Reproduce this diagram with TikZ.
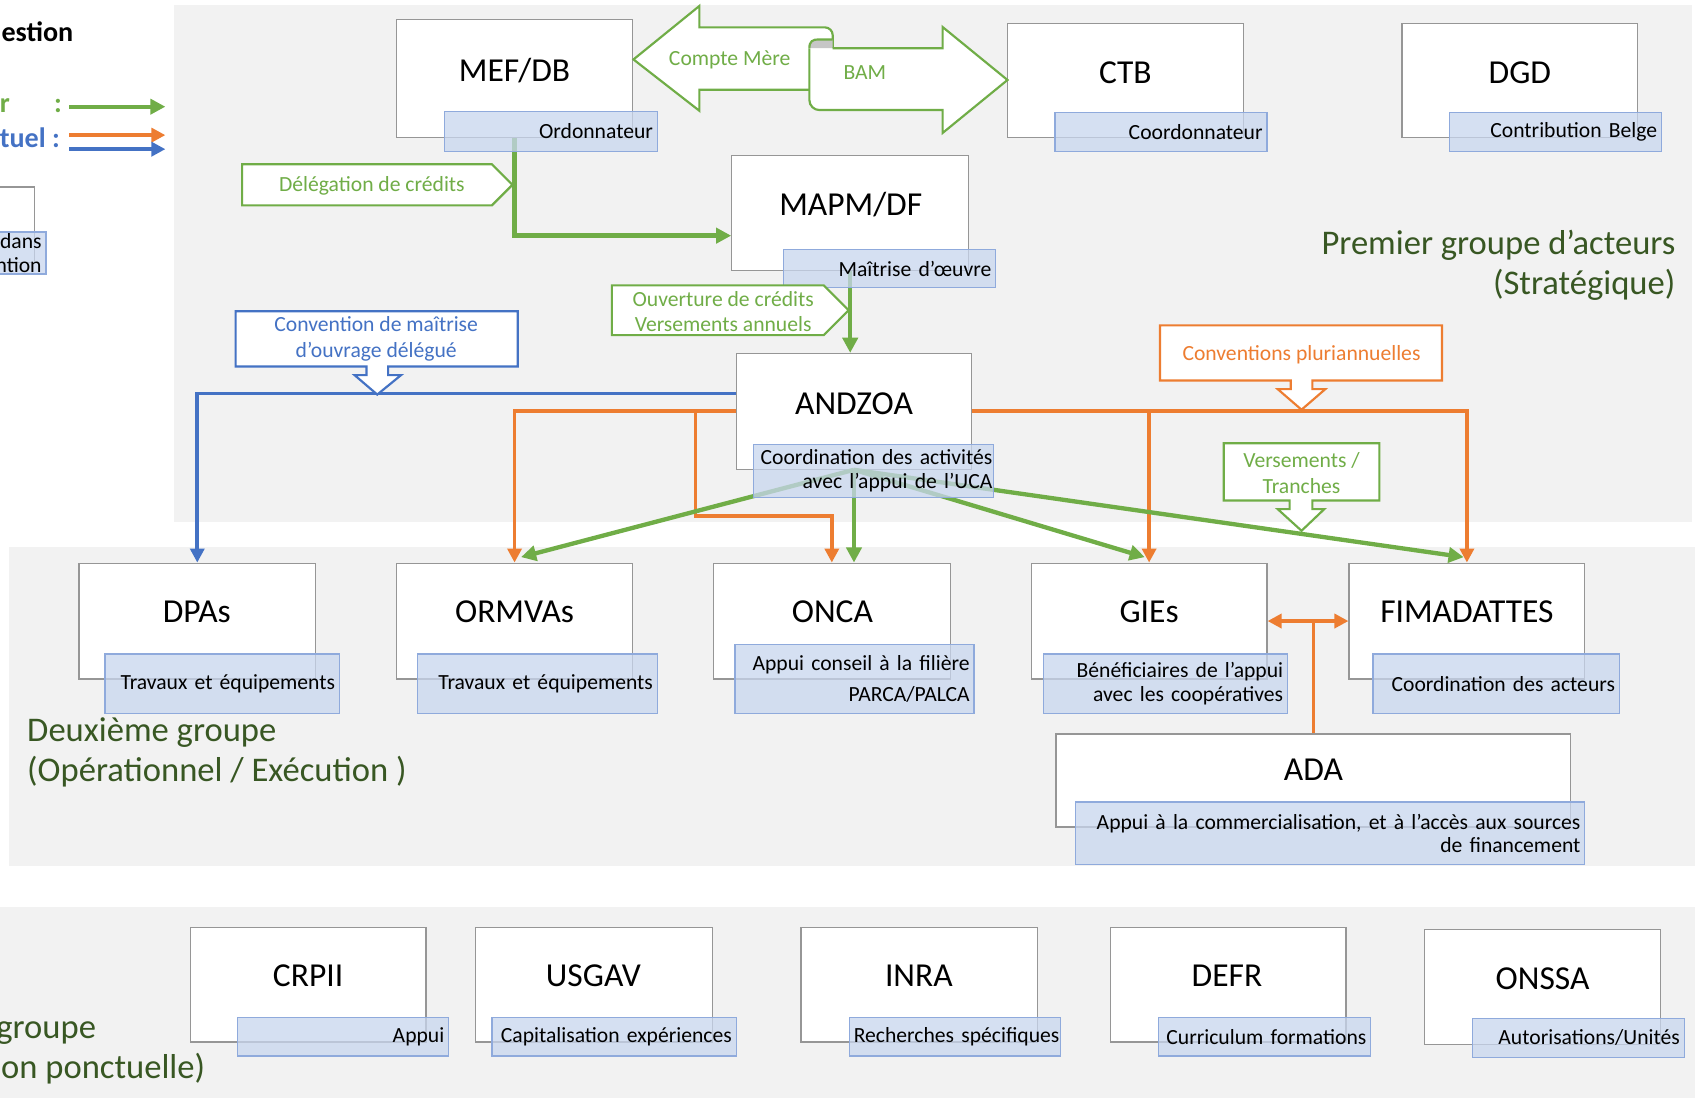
\documentclass[tikz,border=0pt]{standalone}
\usepackage{fontspec}
\setmainfont{Carlito}
\usetikzlibrary{arrows.meta}

\definecolor{ogreen}{RGB}{112,173,71}
\definecolor{oorange}{RGB}{237,125,49}
\definecolor{oblue}{RGB}{68,114,196}
\definecolor{darkgreen}{RGB}{56,87,35}
\definecolor{rolefill}{RGB}{200,214,238}
\definecolor{roleline}{RGB}{143,170,220}
\definecolor{boxgray}{RGB}{150,150,150}
\definecolor{bggray}{RGB}{242,242,242}

\tikzset{
 actor/.style={draw=boxgray, fill=white, line width=1.2pt, inner sep=0pt},
 acttitle/.style={font=\fontsize{31}{36}\selectfont, text height=20pt, text depth=0pt, inner sep=0pt},
 role/.style={draw=roleline, fill=rolefill, fill opacity=0.75, text opacity=1, line width=1.2pt, inner xsep=4pt, inner ysep=0pt, align=right, font=\fontsize{20}{21.5}\selectfont},
 greenflow/.style={draw=ogreen, line width=4pt, ->, >={Triangle[length=14pt,width=14pt]}},
 orangeflow/.style={draw=oorange, line width=3.5pt, ->, >={Triangle[length=13pt,width=13pt]}},
 blueflow/.style={draw=oblue, line width=3.5pt, ->, >={Triangle[length=13pt,width=13pt]}},
 callout/.style={fill=white, line width=2pt},
 calltext/.style={font=\fontsize{20}{23.5}\selectfont, align=center, inner sep=0pt},
 grouptext/.style={text=darkgreen, font=\fontsize{32}{37}\selectfont, inner sep=0pt},
 legendtext/.style={font=\fontsize{26}{30}\selectfont\bfseries, inner sep=0pt},
}

\begin{document}
\begin{tikzpicture}[x=1pt, y=-1pt]
\useasboundingbox (0,0) rectangle (1568,1016);
\clip (0,0) rectangle (1568,1016);
% fonds des groupes
\fill[bggray] (161,5) rectangle (1565,483);
\fill[bggray] (8,506) rectangle (1568,801);
\fill[bggray] (0,839) rectangle (1568,1016);

% legende
\node[legendtext, anchor=base east] (leg-title) at (68,38) {estion};
\node[legendtext, anchor=base east, text=ogreen] (leg-fin) at (57.5,104) {r\hspace{41pt}:};
\node[legendtext, anchor=base east, text=oblue] (leg-con) at (55.5,136) {tuel :};
\coordinate (leg-g1) at (64,98.7);  \coordinate (leg-g2) at (153,98.7);
\coordinate (leg-o1) at (64,125);   \coordinate (leg-o2) at (153,125);
\coordinate (leg-b1) at (64,138);   \coordinate (leg-b2) at (153,138);
\draw[greenflow] (leg-g1) -- (leg-g2);
\draw[orangeflow] (leg-o1) -- (leg-o2);
\draw[blueflow] (leg-b1) -- (leg-b2);
\node[actor, minimum width=132pt, minimum height=70pt] (part) at (-34,208) {};

% premier groupe
\node[actor, minimum width=218pt, minimum height=109pt] (mef) at (476,72.5) {};
\node[acttitle] (mef-t) at (476,65) {MEF/DB};
\node[actor, minimum width=218pt, minimum height=105pt] (ctb) at (1041,74.5) {};
\node[acttitle] (ctb-t) at (1041,67) {CTB};
\node[actor, minimum width=218pt, minimum height=105pt] (dgd) at (1406,74.5) {};
\node[acttitle] (dgd-t) at (1406,67) {DGD};
\node[actor, minimum width=219pt, minimum height=106pt] (mapm) at (786.5,197) {};
\node[acttitle] (mapm-t) at (787,189) {MAPM/DF};
\node[actor, minimum width=218pt, minimum height=107pt] (andzoa) at (790,380.5) {};
\node[acttitle] (andzoa-t) at (790,373) {ANDZOA};

% deuxieme groupe
\node[actor, minimum width=219pt, minimum height=107pt] (dpas) at (182.5,574.5) {};
\node[acttitle] (dpas-t) at (182,566) {DPAs};
\node[actor, minimum width=218pt, minimum height=107pt] (ormvas) at (476,574.5) {};
\node[acttitle] (ormvas-t) at (476,566) {ORMVAs};
\node[actor, minimum width=219pt, minimum height=107pt] (onca) at (769.5,574.5) {};
\node[acttitle] (onca-t) at (770,566) {ONCA};
\node[actor, minimum width=218pt, minimum height=107pt] (gies) at (1063,574.5) {};
\node[acttitle] (gies-t) at (1063,566) {GIEs};
\node[actor, minimum width=218pt, minimum height=107pt] (fima) at (1357,574.5) {};
\node[acttitle] (fima-t) at (1357,566) {FIMADATTES};
\node[actor, minimum width=476pt, minimum height=86pt] (ada) at (1215,722) {};
\node[acttitle] (ada-t) at (1215,712) {ADA};

% troisieme groupe
\node[actor, minimum width=218pt, minimum height=106pt] (crpii) at (285,911) {};
\node[acttitle] (crpii-t) at (285,903) {CRPII};
\node[actor, minimum width=219pt, minimum height=106pt] (usgav) at (549.5,911) {};
\node[acttitle] (usgav-t) at (549,903) {USGAV};
\node[actor, minimum width=219pt, minimum height=106pt] (inra) at (850.5,911) {};
\node[acttitle] (inra-t) at (850,903) {INRA};
\node[actor, minimum width=218pt, minimum height=106pt] (defr) at (1136,911) {};
\node[acttitle] (defr-t) at (1135,903) {DEFR};
\node[actor, minimum width=218pt, minimum height=106pt] (onssa) at (1427,913) {};
\node[acttitle] (onssa-t) at (1427,905) {ONSSA};

% fleches Compte Mere / BAM
\draw[callout, draw=ogreen] (748.7,83) -- (647,83) -- (647,102.5) -- (586,55) -- (647,5.5) -- (647,25.3) -- (763,25.3) arc[start angle=-90, end angle=0, radius=7.3] -- (770.3,44.7);
\fill[gray!45] (748.7,44.7) .. controls (748.7,38) and (752,36.5) .. (757,36.5) -- (770.3,36.5) -- (770.3,44.7) -- cycle;
\draw[draw=ogreen, line width=2pt] (748.7,44.7) .. controls (748.7,38) and (752,36.5) .. (757,36.5) -- (770.3,36.5);
\draw[callout, draw=ogreen] (770.3,44.7) -- (872,44.7) -- (872,25) -- (932,74) -- (872,123) -- (872,101.8) -- (758,101.8) arc[start angle=90, end angle=180, radius=9.3] -- (748.7,44.7);
\node[calltext, text=ogreen] (compte) at (675,55) {Compte Mère};
\node[calltext, text=ogreen] (bam) at (800,67) {BAM};

% liens
\draw[greenflow] (mef.south) |- ([yshift=-21pt]mapm.west);
\draw[greenflow] (mapm.south) -- (mapm.south |- andzoa.north);
\draw[blueflow] ([yshift=16.5pt]andzoa.west) -| (dpas.north);
\draw[orangeflow] (andzoa.west) -| (ormvas.north);
\draw[orangeflow] ([xshift=-37pt]andzoa.west) -- ++(0,97) -| (onca.north);
\draw[orangeflow] (andzoa.east) -| (fima.north);
\draw[orangeflow] (gies.north |- andzoa.east) -- (gies.north);
\draw[greenflow] (andzoa.south) -- ([xshift=6pt,yshift=5pt]ormvas.north);
\draw[greenflow] (andzoa.south) -- (andzoa.south |- onca.north);
\draw[greenflow] (andzoa.south) -- ([xshift=-4pt,yshift=5pt]gies.north);
\draw[greenflow] (andzoa.south) -- ([xshift=-3pt,yshift=5pt]fima.north);
\draw[orangeflow, <->] (gies.east) -- (fima.west);
\draw[draw=oorange, line width=3.5pt] (ada.north) -- (ada.north |- gies.east);

% roles
\node[role, minimum height=39pt, text width=134.5pt] (part-r) at (-28.75,234.1) {dans\\ntion};
\node[role, minimum height=37pt, text width=189pt] (mef-r) at (509.5,121.5) {Ordonnateur};
\node[role, minimum height=36pt, text width=188pt] (ctb-r) at (1074,122) {Coordonnateur};
\node[role, minimum height=36pt, text width=188pt] (dgd-r) at (1439,122) {Contribution Belge};
\node[role, minimum height=35pt, text width=188pt] (mapm-r) at (823,248.5) {Maîtrise d’œuvre};
\node[role, minimum height=49pt, inner xsep=1pt, text width=220pt] (andzoa-r) at (808,435.5) {Coordination des activités\\avec l’appui de l’UCA};
\node[role, minimum height=55pt, text width=209pt] (dpas-r) at (205.5,632.5) {Travaux et équipements};
\node[role, minimum height=55pt, text width=214pt] (ormvas-r) at (497,632.5) {Travaux et équipements};
\node[role, minimum height=64pt, text width=213pt] (onca-r) at (790.5,628) {Appui conseil à la filière\\[7pt]PARCA/PALCA};
\node[role, minimum height=55pt, text width=218pt] (gies-r) at (1078,632.5) {Bénéficiaires de l’appui\\avec les coopératives};
\node[role, minimum height=55pt, text width=220pt] (fima-r) at (1384,632.5) {Coordination des acteurs};
\node[role, minimum height=58pt, text width=463pt] (ada-r) at (1230.5,771) {Appui à la commercialisation, et à l’accès aux sources\\de financement};
\node[role, minimum height=36pt, text width=187pt] (crpii-r) at (317.5,959) {Appui};
\node[role, minimum height=36pt, text width=218pt] (usgav-r) at (568,959) {Capitalisation expériences};
\node[role, minimum height=36pt, inner xsep=1pt, text width=193pt] (inra-r) at (883.5,959) {Recherches spécifiques};
\node[role, minimum height=36pt, text width=188pt] (defr-r) at (1170,959) {Curriculum formations};
\node[role, minimum height=36pt, text width=188pt] (onssa-r) at (1460,960) {Autorisations/Unités};

% bulles
\draw[callout, draw=ogreen] (224,152) -- (455,152) -- (474,171) -- (455,190) -- (224,190) -- cycle;
\node[calltext, text=ogreen] (deleg) at (344,172) {Délégation de crédits};
\draw[callout, draw=ogreen] (566,264) -- (762,264) -- (785,287) -- (762,310) -- (566,310) -- cycle;
\node[calltext, text=ogreen] (ouvert) at (669,288) {Ouverture de crédits\\Versements annuels};
\draw[callout, draw=oblue] (218,288) -- (479,288) -- (479,339) -- (359,339) -- (359,347) -- (371,347) -- (349,365) -- (328,347) -- (339,347) -- (339,339) -- (218,339) -- cycle;
\node[calltext, text=oblue] (conv) at (348,313.5) {Convention de maîtrise\\d’ouvrage délégué};
\draw[callout, draw=oorange] (1073,301) -- (1334,301) -- (1334,352) -- (1214,352) -- (1214,360) -- (1226,360) -- (1204,379) -- (1182,360) -- (1194,360) -- (1194,352) -- (1073,352) -- cycle;
\node[calltext, text=oorange] (plur) at (1204,328) {Conventions pluriannuelles};
\draw[callout, draw=ogreen] (1132,410) -- (1276,410) -- (1276,463) -- (1214,463) -- (1214,471) -- (1225,471) -- (1204,491) -- (1182,471) -- (1193,471) -- (1193,463) -- (1132,463) -- cycle;
\node[calltext, text=ogreen] (verse) at (1204,437.5) {Versements /\\Tranches};

% groupes
\node[grouptext, align=right, anchor=east] (grp1) at (1550,245) {Premier groupe d’acteurs\\(Stratégique)};
\node[grouptext, align=left, anchor=west] (grp2) at (25,696) {Deuxième groupe\\(Opérationnel / Exécution )};
\node[grouptext, anchor=base east] (grp3a) at (89,961) {groupe};
\node[grouptext, anchor=base east] (grp3b) at (190,998) {on ponctuelle)};
\end{tikzpicture}
\end{document}
